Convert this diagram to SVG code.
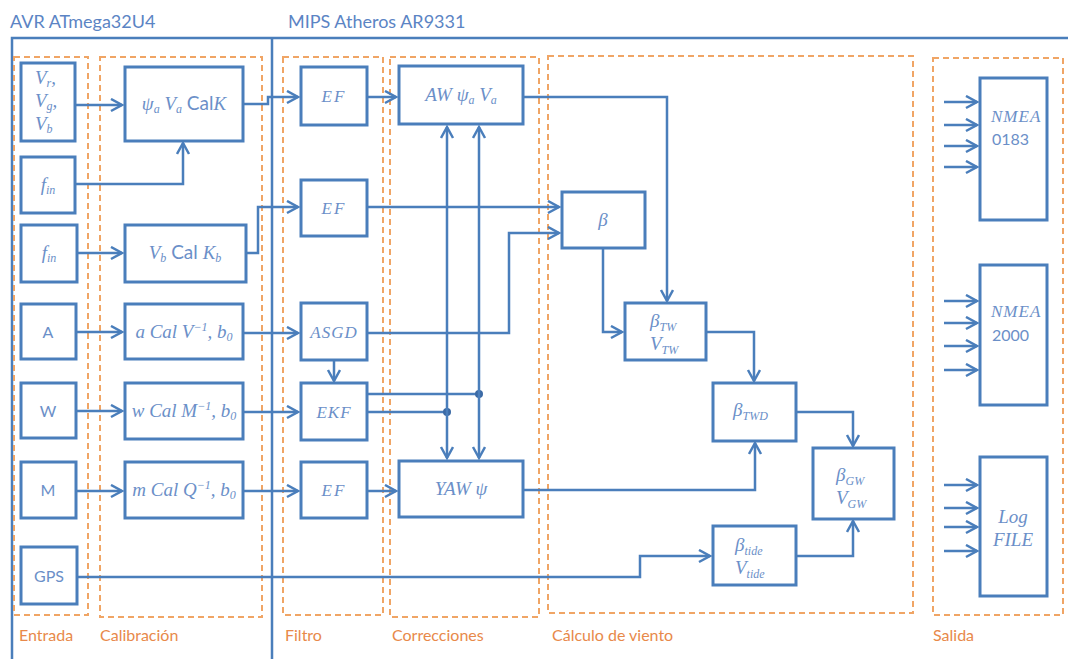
<svg xmlns="http://www.w3.org/2000/svg" width="1068" height="659" viewBox="0 0 1068 659">
<defs>
<style>
.box{fill:#fff;stroke:#4a7ebb;stroke-width:3}
.frame{fill:none;stroke:#4a7ebb;stroke-width:2.5}
.grp{fill:none;stroke:#f0a565;stroke-width:2;stroke-dasharray:6 4}
.c{fill:none;stroke:#4a7ebb;stroke-width:2.5}
.m{font-family:"Liberation Serif",serif;font-style:italic;font-size:17px;fill:#6b8fc8}
.big{font-size:19px}
.s{font-family:Lato,"Liberation Sans",sans-serif;font-size:16px;fill:#6b8fc8}
.up{font-style:normal;font-family:Lato,"Liberation Sans",sans-serif}
.sub{font-size:12px}
.title{font-family:Lato,"Liberation Sans",sans-serif;font-size:18px;fill:#5b84c4}
.glab{font-family:Lato,"Liberation Sans",sans-serif;font-size:16px;fill:#e8894a}
</style>
<marker id="ah" markerUnits="userSpaceOnUse" markerWidth="16" markerHeight="16" refX="12" refY="7" orient="auto">
<path d="M1,1 L12,7 L1,13" fill="none" stroke="#4a7ebb" stroke-width="2.5"/>
</marker>
<marker id="ahs" markerUnits="userSpaceOnUse" markerWidth="16" markerHeight="16" refX="12" refY="7" orient="auto-start-reverse">
<path d="M1,1 L12,7 L1,13" fill="none" stroke="#4a7ebb" stroke-width="2.5"/>
</marker>
</defs>
<rect width="1068" height="659" fill="#fff"/>

<g id="frames">
<text class="title" x="10" y="28">AVR ATmega32U4</text>
<text class="title" x="288" y="28">MIPS Atheros AR9331</text>
<path class="frame" d="M12,659 V38 H1068"/>
<path class="frame" d="M272,38 V659"/>
</g>

<g id="groups">
<rect class="grp" x="14" y="57" width="74" height="558"/>
<rect class="grp" x="100" y="57" width="162" height="560"/>
<rect class="grp" x="283" y="57" width="100" height="558"/>
<rect class="grp" x="390" y="57" width="149" height="560"/>
<rect class="grp" x="548" y="56" width="365" height="557"/>
<rect class="grp" x="933" y="58" width="130" height="557"/>
<text class="glab" x="19" y="641">Entrada</text>
<text class="glab" x="100" y="641">Calibración</text>
<text class="glab" x="285" y="641">Filtro</text>
<text class="glab" x="392" y="641">Correcciones</text>
<text class="glab" x="552" y="641">Cálculo de viento</text>
<text class="glab" x="933" y="641">Salida</text>
</g>

<g id="connectors">
<path class="c" d="M75,105 H122" marker-end="url(#ah)"/>
<path class="c" d="M75,184 H183 V143" marker-end="url(#ah)"/>
<path class="c" d="M243,104 H268 V97 H298" marker-end="url(#ah)"/>
<path class="c" d="M77,253 H122" marker-end="url(#ah)"/>
<path class="c" d="M246,253 H258 V207 H298" marker-end="url(#ah)"/>
<path class="c" d="M76,332 H122" marker-end="url(#ah)"/>
<path class="c" d="M76,411 H122" marker-end="url(#ah)"/>
<path class="c" d="M76,491 H122" marker-end="url(#ah)"/>
<path class="c" d="M243,333 H298" marker-end="url(#ah)"/>
<path class="c" d="M243,412 H298" marker-end="url(#ah)"/>
<path class="c" d="M243,491 H298" marker-end="url(#ah)"/>
<path class="c" d="M77,577 H640 V556 H710" marker-end="url(#ah)"/>
<path class="c" d="M367,97 H396" marker-end="url(#ah)"/>
<path class="c" d="M367,207 H559" marker-end="url(#ah)"/>
<path class="c" d="M367,333 H509 V233 H559" marker-end="url(#ah)"/>
<path class="c" d="M334,360 V381" marker-end="url(#ah)"/>
<path class="c" d="M367,394 H479"/>
<path class="c" d="M367,412 H447"/>
<circle cx="479" cy="394" r="4" fill="#3b6aa5"/>
<circle cx="447" cy="412" r="4" fill="#3b6aa5"/>
<path class="c" d="M447,127 V458" marker-start="url(#ahs)" marker-end="url(#ah)"/>
<path class="c" d="M479,127 V458" marker-start="url(#ahs)" marker-end="url(#ah)"/>
<path class="c" d="M367,491 H396" marker-end="url(#ah)"/>
<path class="c" d="M523,97 H667 V301" marker-end="url(#ah)"/>
<path class="c" d="M603,248 V332 H622" marker-end="url(#ah)"/>
<path class="c" d="M706,332 H754 V381" marker-end="url(#ah)"/>
<path class="c" d="M523,490 H755 V443" marker-end="url(#ah)"/>
<path class="c" d="M796,412 H853 V446" marker-end="url(#ah)"/>
<path class="c" d="M796,556 H853 V521" marker-end="url(#ah)"/>
<path class="c" d="M944,102 H977" marker-end="url(#ah)"/>
<path class="c" d="M944,125 H977" marker-end="url(#ah)"/>
<path class="c" d="M944,146 H977" marker-end="url(#ah)"/>
<path class="c" d="M944,167 H977" marker-end="url(#ah)"/>
<path class="c" d="M944,301 H977" marker-end="url(#ah)"/>
<path class="c" d="M944,323 H977" marker-end="url(#ah)"/>
<path class="c" d="M944,346 H977" marker-end="url(#ah)"/>
<path class="c" d="M944,370 H977" marker-end="url(#ah)"/>
<path class="c" d="M944,485 H977" marker-end="url(#ah)"/>
<path class="c" d="M944,508 H977" marker-end="url(#ah)"/>
<path class="c" d="M944,527 H977" marker-end="url(#ah)"/>
<path class="c" d="M944,551 H977" marker-end="url(#ah)"/>
</g>

<g id="n-vrgb"><rect class="box" x="21" y="63" width="54" height="78"/>
<text class="m big" x="35" y="84">V<tspan class="sub" dy="3">r</tspan><tspan dy="-3">,</tspan></text>
<text class="m big" x="35" y="107">V<tspan class="sub" dy="3">g</tspan><tspan dy="-3">,</tspan></text>
<text class="m big" x="35" y="130">V<tspan class="sub" dy="3">b</tspan></text></g>
<g id="n-fin1"><rect class="box" x="21" y="157" width="54" height="56"/>
<text class="m big" x="48" y="191" text-anchor="middle">f<tspan class="sub" dy="3">in</tspan></text></g>
<g id="n-fin2"><rect class="box" x="21" y="225" width="56" height="57"/>
<text class="m big" x="49" y="259" text-anchor="middle">f<tspan class="sub" dy="3">in</tspan></text></g>
<g id="n-a"><rect class="box" x="21" y="304" width="55" height="55"/>
<text class="s" x="48" y="338" text-anchor="middle">A</text></g>
<g id="n-w"><rect class="box" x="21" y="383" width="55" height="55"/>
<text class="s" x="48" y="417" text-anchor="middle">W</text></g>
<g id="n-m"><rect class="box" x="21" y="462" width="55" height="56"/>
<text class="s" x="48" y="496" text-anchor="middle">M</text></g>
<g id="n-gps"><rect class="box" x="21" y="547" width="56" height="57"/>
<text class="s" x="49" y="582" text-anchor="middle">GPS</text></g>

<g id="n-calk"><rect class="box" x="125" y="67" width="118" height="74"/>
<text class="m big" x="184" y="110" text-anchor="middle">ψ<tspan class="sub" dy="3">a</tspan><tspan dy="-3"> V</tspan><tspan class="sub" dy="3">a</tspan><tspan dy="-3" class="up"> Cal</tspan>K</text></g>
<g id="n-calkb"><rect class="box" x="125" y="225" width="121" height="57"/>
<text class="m big" x="185" y="259" text-anchor="middle">V<tspan class="sub" dy="3">b</tspan><tspan dy="-3" class="up"> Cal </tspan>K<tspan class="sub" dy="3">b</tspan></text></g>
<g id="n-acal"><rect class="box" x="125" y="304" width="118" height="55"/>
<text class="m big" x="184" y="338" text-anchor="middle">a Cal V<tspan class="sub" dy="-7">−1</tspan><tspan dy="7">, b</tspan><tspan class="sub" dy="3">0</tspan></text></g>
<g id="n-wcal"><rect class="box" x="125" y="383" width="118" height="56"/>
<text class="m big" x="184" y="417" text-anchor="middle">w Cal M<tspan class="sub" dy="-7">−1</tspan><tspan dy="7">, b</tspan><tspan class="sub" dy="3">0</tspan></text></g>
<g id="n-mcal"><rect class="box" x="125" y="462" width="118" height="56"/>
<text class="m big" x="184" y="496" text-anchor="middle">m Cal Q<tspan class="sub" dy="-7">−1</tspan><tspan dy="7">, b</tspan><tspan class="sub" dy="3">0</tspan></text></g>

<g id="n-ef1"><rect class="box" x="301" y="67" width="66" height="58"/>
<text class="m" x="334" y="102" text-anchor="middle" letter-spacing="2">EF</text></g>
<g id="n-ef2"><rect class="box" x="301" y="180" width="66" height="56"/>
<text class="m" x="334" y="214" text-anchor="middle" letter-spacing="2">EF</text></g>
<g id="n-asgd"><rect class="box" x="301" y="303" width="66" height="57"/>
<text class="m" x="334" y="338" text-anchor="middle" letter-spacing="1">ASGD</text></g>
<g id="n-ekf"><rect class="box" x="301" y="383" width="66" height="57"/>
<text class="m" x="334" y="418" text-anchor="middle" letter-spacing="1">EKF</text></g>
<g id="n-ef3"><rect class="box" x="301" y="462" width="66" height="56"/>
<text class="m" x="334" y="496" text-anchor="middle" letter-spacing="2">EF</text></g>

<g id="n-aw"><rect class="box" x="399" y="66" width="124" height="58"/>
<text class="m big" x="461" y="101" text-anchor="middle">AW ψ<tspan class="sub" dy="3">a</tspan><tspan dy="-3"> V</tspan><tspan class="sub" dy="3">a</tspan></text></g>
<g id="n-yaw"><rect class="box" x="399" y="461" width="124" height="56"/>
<text class="m big" x="461" y="495" text-anchor="middle">YAW ψ</text></g>

<g id="n-beta"><rect class="box" x="562" y="192" width="83" height="56"/>
<text class="m big" x="603" y="226" text-anchor="middle">β</text></g>
<g id="n-btw"><rect class="box" x="625" y="303" width="81" height="57"/>
<text class="m big" x="650" y="327">β<tspan class="sub" dy="4">TW</tspan></text>
<text class="m big" x="650" y="350">V<tspan class="sub" dy="4">TW</tspan></text></g>
<g id="n-btwd"><rect class="box" x="713" y="383" width="83" height="58"/>
<text class="m big" x="733" y="416">β<tspan class="sub" dy="4">TWD</tspan></text></g>
<g id="n-bgw"><rect class="box" x="813" y="448" width="81" height="71"/>
<text class="m big" x="836" y="481">β<tspan class="sub" dy="4">GW</tspan></text>
<text class="m big" x="836" y="504">V<tspan class="sub" dy="4">GW</tspan></text></g>
<g id="n-btide"><rect class="box" x="713" y="526" width="83" height="59"/>
<text class="m big" x="735" y="551">β<tspan class="sub" dy="4">tide</tspan></text>
<text class="m big" x="735" y="574">V<tspan class="sub" dy="4">tide</tspan></text></g>

<g id="n-nmea0183"><rect class="box" x="980" y="78" width="67" height="142"/>
<text class="m" x="991" y="122" font-size="15" letter-spacing="1">NMEA</text>
<text class="s" x="992" y="145">0183</text></g>
<g id="n-nmea2000"><rect class="box" x="980" y="265" width="67" height="140"/>
<text class="m" x="991" y="317" font-size="15" letter-spacing="1">NMEA</text>
<text class="s" x="992" y="341">2000</text></g>
<g id="n-log"><rect class="box" x="980" y="457" width="67" height="139"/>
<text class="m big" x="1013" y="523" text-anchor="middle">Log</text>
<text class="m big" x="1013" y="546" text-anchor="middle">FILE</text></g>
</svg>
